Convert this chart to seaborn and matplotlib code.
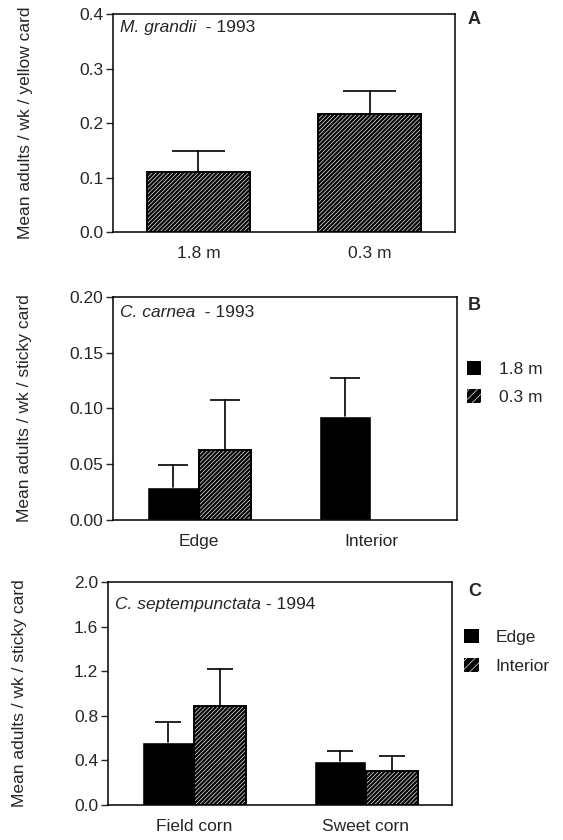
import numpy as np
import pandas as pd
import seaborn as sns
import matplotlib.pyplot as plt
from matplotlib.patches import Patch, Rectangle

# panel A - M. grandii 1993 (yellow cards)
a_heights = ["1.8 m", "0.3 m"]
a_mean = [0.111, 0.216]
a_se = [0.038, 0.042]

# panel B - C. carnea 1993 (sticky cards)
b_sites = ["Edge", "Interior"]
b_heights = ["1.8 m", "0.3 m"]
b_mean_18 = [0.030, 0.0935]
b_se_18 = [0.019, 0.0335]
b_mean_03 = [0.063, 0.0]
b_se_03 = [0.045, 0.0]

# panel C - C. septempunctata 1994 (sticky cards)
c_crops = ["Field corn", "Sweet corn"]
c_sites = ["Edge", "Interior"]
c_mean_edge = [0.568, 0.397]
c_se_edge = [0.176, 0.090]
c_mean_int = [0.890, 0.308]
c_se_int = [0.327, 0.132]

sns.set_style("white")
plt.rcParams["font.family"] = ["Liberation Sans", "DejaVu Sans"]
plt.rcParams["hatch.color"] = "white"
plt.rcParams["hatch.linewidth"] = 0.45

HATCH = "/" * 8
DARK = "#050505"
FS = 12.5


def hatch_bars(ax, bars):
    for bar in bars:
        if bar.get_height() <= 0:
            continue
        bar.set_facecolor(DARK)
        bar.set_edgecolor("white")
        bar.set_hatch(HATCH)
        bar.set_linewidth(0)
        ax.add_patch(Rectangle(bar.get_xy(), bar.get_width(), bar.get_height(),
                               fill=False, ec="black", lw=1.4, zorder=3))


def add_errors(ax, bars, errs, cap_frac):
    # one-sided (upper) error bars with a cap only at the top
    for bar, e in zip(bars, errs):
        h = bar.get_height()
        if h <= 0:
            continue
        x = bar.get_x() + bar.get_width() / 2
        half = bar.get_width() * cap_frac / 2
        ax.plot([x, x], [h, h + e], color="black", lw=1.2, zorder=4)
        ax.plot([x - half, x + half], [h + e, h + e], color="black", lw=1.2,
                zorder=4, solid_capstyle="butt")


def style_axes(ax, ylim, ticks, fmt, ylabel):
    ax.set_ylim(*ylim)
    ax.set_xlim(-0.5, 1.5)
    ax.set_yticks(ticks)
    ax.set_yticklabels([fmt.format(t) for t in ticks], fontsize=FS)
    ax.tick_params(axis="y", direction="out", length=5, width=1, pad=2, left=True)
    ax.tick_params(axis="x", length=0, pad=10, labelsize=FS)
    ax.set_xlabel("")
    ax.set_ylabel(ylabel, fontsize=FS)
    ax.yaxis.set_label_coords(-0.235, 0.5)
    for sp in ax.spines.values():
        sp.set_visible(True)
        sp.set_linewidth(1.1)
        sp.set_color("black")


def panel_title(ax, species, year, y):
    t = ax.text(0.02, y, species, transform=ax.transAxes, fontsize=FS,
                style="italic", va="center", ha="left")
    ax.annotate(year, xy=(1, 0.5), xycoords=t, fontsize=FS,
                va="center", ha="left")


fig = plt.figure(figsize=(5.63, 8.4), dpi=100)
axA = fig.add_axes([0.2007, 0.7238, 0.6075, 0.2595])
axB = fig.add_axes([0.2007, 0.3810, 0.6110, 0.2655])
axC = fig.add_axes([0.1918, 0.0417, 0.6110, 0.2655])

# ---- A
dfA = pd.DataFrame({"height": a_heights, "mean": a_mean})
sns.barplot(data=dfA, x="height", y="mean", order=a_heights, color="black",
            width=0.6, errorbar=None, ax=axA)
barsA = list(axA.containers[0])
hatch_bars(axA, barsA)
add_errors(axA, barsA, a_se, 0.52)
style_axes(axA, (0, 0.4), np.arange(0, 0.41, 0.1), "{:.1f}",
           "Mean adults / wk / yellow card")
panel_title(axA, "M. grandii", "  - 1993", 0.94)

# ---- B
dfB = pd.DataFrame({
    "site": b_sites * 2,
    "height": [b_heights[0]] * 2 + [b_heights[1]] * 2,
    "mean": b_mean_18 + b_mean_03,
})
sns.barplot(data=dfB, x="site", y="mean", hue="height", order=b_sites,
            hue_order=b_heights, palette=["black", "black"], width=0.6,
            errorbar=None, legend=False, ax=axB)
b18, b03 = list(axB.containers[0]), list(axB.containers[1])
hatch_bars(axB, b03)
add_errors(axB, b18, b_se_18, 0.58)
add_errors(axB, b03, b_se_03, 0.58)
style_axes(axB, (0, 0.2), np.arange(0, 0.201, 0.05), "{:.2f}",
           "Mean adults / wk / sticky card")
panel_title(axB, "C. carnea", "  - 1993", 0.928)
handlesB = [Patch(facecolor="black", edgecolor="black", lw=0),
            Patch(facecolor=DARK, edgecolor="white", hatch="/" * 4, lw=0)]
axB.legend(handlesB, b_heights, loc="upper left", bbox_to_anchor=(1.03, 0.715),
           frameon=False, fontsize=FS, handlelength=0.8, handleheight=0.9,
           handletextpad=1.0, labelspacing=0.7, borderpad=0, borderaxespad=0)

# ---- C
dfC = pd.DataFrame({
    "crop": c_crops * 2,
    "site": [c_sites[0]] * 2 + [c_sites[1]] * 2,
    "mean": c_mean_edge + c_mean_int,
})
sns.barplot(data=dfC, x="crop", y="mean", hue="site", order=c_crops,
            hue_order=c_sites, palette=["black", "black"], width=0.6,
            errorbar=None, legend=False, ax=axC)
cE, cI = list(axC.containers[0]), list(axC.containers[1])
hatch_bars(axC, cI)
add_errors(axC, cE, c_se_edge, 0.5)
add_errors(axC, cI, c_se_int, 0.5)
style_axes(axC, (0, 2.0), np.arange(0, 2.01, 0.4), "{:.1f}",
           "Mean adults / wk / sticky card")
panel_title(axC, "C. septempunctata", " - 1994", 0.897)
handlesC = [Patch(facecolor="black", edgecolor="black", lw=0),
            Patch(facecolor=DARK, edgecolor="white", hatch="/" * 4, lw=0)]
axC.legend(handlesC, c_sites, loc="upper left", bbox_to_anchor=(1.035, 0.79),
           frameon=False, fontsize=FS, handlelength=0.85, handleheight=0.9,
           handletextpad=0.95, labelspacing=0.75, borderpad=0, borderaxespad=0)

# panel letters
for lab, y in [("A", 20), ("B", 306), ("C", 591)]:
    fig.text(468 / 563, 1 - y / 840, lab, fontsize=13, fontweight="bold",
             ha="left", va="center")

fig.savefig("out.png", dpi=100)
